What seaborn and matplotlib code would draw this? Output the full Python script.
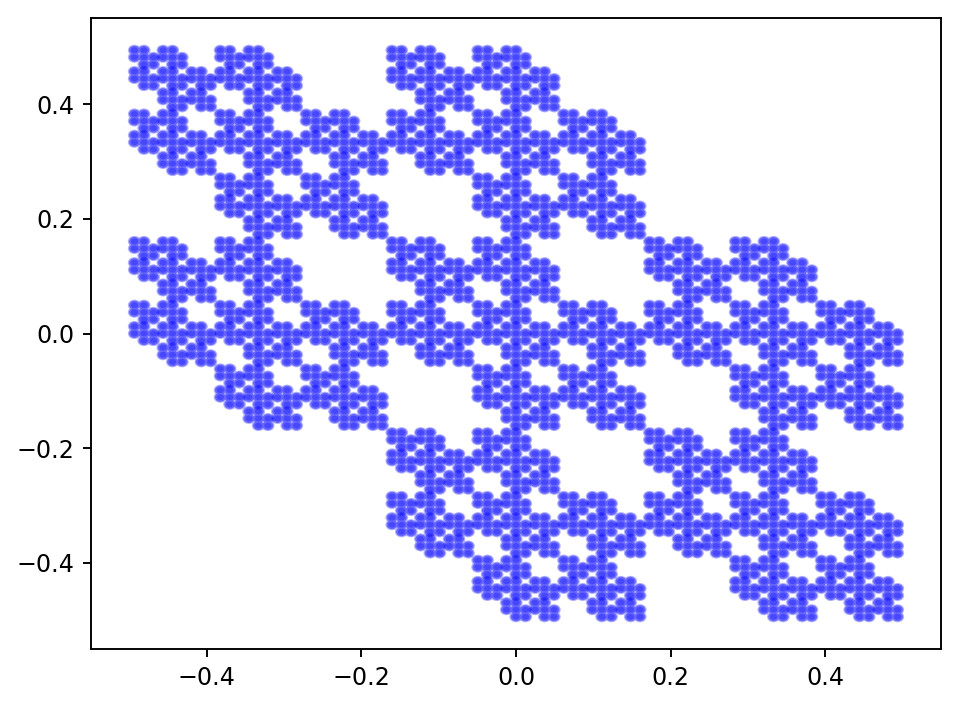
import matplotlib
matplotlib.use("Agg")
import matplotlib.pyplot as plt
from matplotlib.path import Path
from matplotlib.transforms import Affine2D
import numpy as np
import seaborn as sns

# Point rows: row height -> column positions, in 1/27 units
UNIT = 27
row_heights = list(range(13, -14, -1))
row_columns = [
    [-13,-12,-10,-9,-4,-3,-1,0],
    [-13,-12,-11,-10,-9,-8,-4,-3,-2,-1,0,1],
    [-12,-11,-9,-8,-3,-2,0,1],
    [-13,-12,-10,-9,-7,-6,-4,-3,-1,0,2,3],
    [-13,-12,-11,-10,-9,-8,-7,-6,-5,-4,-3,-2,-1,0,1,2,3,4],
    [-12,-11,-9,-8,-6,-5,-3,-2,0,1,3,4],
    [-10,-9,-7,-6,-1,0,2,3],
    [-10,-9,-8,-7,-6,-5,-1,0,1,2,3,4],
    [-9,-8,-6,-5,0,1,3,4],
    [-13,-12,-10,-9,-4,-3,-1,0,5,6,8,9],
    [-13,-12,-11,-10,-9,-8,-4,-3,-2,-1,0,1,5,6,7,8,9,10],
    [-12,-11,-9,-8,-3,-2,0,1,6,7,9,10],
    [-13,-12,-10,-9,-7,-6,-4,-3,-1,0,2,3,5,6,8,9,11,12],
    [-13,-12,-11,-10,-9,-8,-7,-6,-5,-4,-3,-2,-1,0,1,2,3,4,5,6,7,8,9,10,11,12,13],
    [-12,-11,-9,-8,-6,-5,-3,-2,0,1,3,4,6,7,9,10,12,13],
    [-10,-9,-7,-6,-1,0,2,3,8,9,11,12],
    [-10,-9,-8,-7,-6,-5,-1,0,1,2,3,4,8,9,10,11,12,13],
    [-9,-8,-6,-5,0,1,3,4,9,10,12,13],
    [-4,-3,-1,0,5,6,8,9],
    [-4,-3,-2,-1,0,1,5,6,7,8,9,10],
    [-3,-2,0,1,6,7,9,10],
    [-4,-3,-1,0,2,3,5,6,8,9,11,12],
    [-4,-3,-2,-1,0,1,2,3,4,5,6,7,8,9,10,11,12,13],
    [-3,-2,0,1,3,4,6,7,9,10,12,13],
    [-1,0,2,3,8,9,11,12],
    [-1,0,1,2,3,4,8,9,10,11,12,13],
    [0,1,3,4,9,10,12,13],
]

xs = np.array([c for cols in row_columns for c in cols]) / UNIT
ys = np.array([h for h, cols in zip(row_heights, row_columns) for _ in cols]) / UNIT

DPI = 171.3
fig = plt.figure(figsize=(957 / DPI, 707 / DPI), dpi=DPI)
ax = fig.add_axes([91 / 957, 1 - 649 / 707, 850 / 957, 631 / 707])

# Seven-lobed marker glyph (pixel proportions of the mark)
lobes = [(-1, 1), (0, 1), (-1, 0), (0, 0), (1, 0), (0, -1), (1, -1)]


def glyph(rx, ry):
    parts = [
        Path.unit_circle().transformed(
            Affine2D().scale(rx, ry).translate(i * 9.5, j * 7.1)
        )
        for i, j in lobes
    ]
    return Path.make_compound_path(*parts)


for rx, ry, alpha in [(6.6, 5.5, 0.3), (5.4, 4.5, 0.42), (3.6, 2.9, 0.3)]:
    g = glyph(rx, ry)
    extent = np.abs(g.vertices).max()
    size = (2 * extent * 72 / DPI) ** 2
    sns.scatterplot(x=xs, y=ys, ax=ax, marker=g, s=size, color="blue",
                    alpha=alpha, edgecolor="none", linewidth=0, legend=False)

ax.set_xlim(-0.55, 0.55)
ax.set_ylim(-0.55, 0.55)
ax.set_xticks([-0.4, -0.2, 0.0, 0.2, 0.4])
ax.set_yticks([-0.4, -0.2, 0.0, 0.2, 0.4])
fig.savefig("out.png", dpi=DPI)
